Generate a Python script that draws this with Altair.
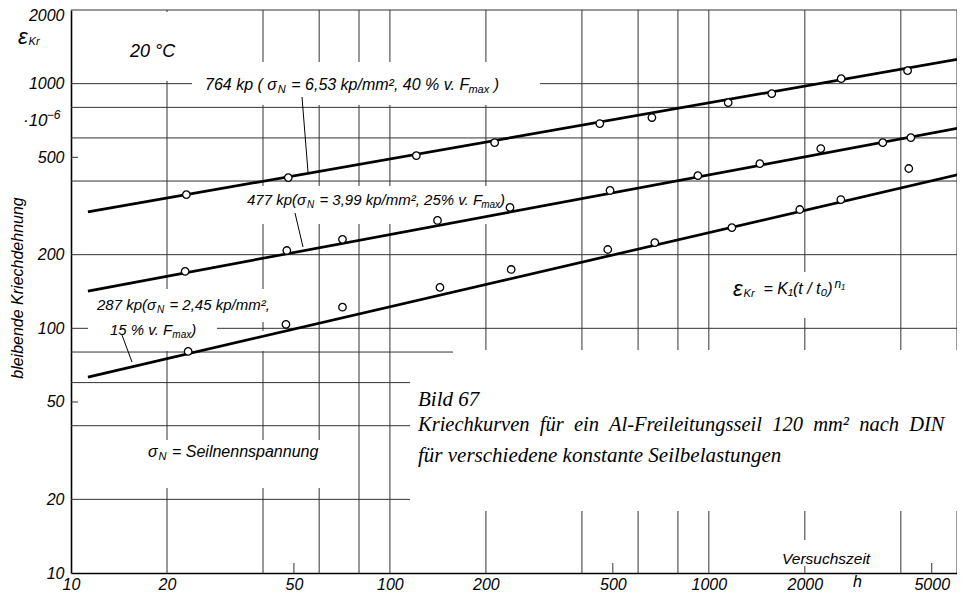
import math
import altair as alt
import pandas as pd

# ---------------- data ----------------
# creep strain (x 10^-6) versus test time (h), three rope loads
t_764 = [23, 48, 121, 213, 455, 663, 1150, 1575, 2600, 4200]
e_764 = [352, 413, 508, 574, 687, 727, 836, 910, 1048, 1130]
t_477 = [22.8, 47.5, 71, 141, 238, 490, 924, 1445, 2244, 3510, 4300]
e_477 = [171, 208, 231, 276, 312, 366, 421, 471, 543, 574, 602]
t_287 = [23.3, 47.2, 71, 143.5, 240, 482, 677, 1181, 1928, 2594, 4236]
e_287 = [80.5, 103.8, 122, 147, 174, 210, 224, 258, 306, 336, 450]

# end points of the drawn straight fit lines
fit_t = [11.3, 6350]
fit_764 = [299, 1274]
fit_477 = [142, 665]
fit_287 = [63.2, 431]

x_grid = [20, 40, 60, 80, 100, 200, 400, 600, 800, 1000, 2000, 4000, 6000]
y_grid = [20, 40, 60, 80, 100, 200, 400, 600, 800, 1000, 2000]
x_ticks = [10, 20, 50, 100, 200, 500, 1000, 2000, 5000]
y_ticks = [10, 20, 50, 100, 200, 500, 1000, 2000]
x_minor = [50, 500, 5000]
y_minor = [50, 500]

# ---------------- layout ----------------
PAD_L, PAD_T, W, H = 63, 2, 886, 563
X_DOM = [10, 6000]
Y_DOM = [10, 2000]
PX0, PY0 = 8 + PAD_L, 8 + PAD_T   # plot origin on the page


def tx(px):
    return 10 ** (math.log10(X_DOM[0]) + (px - PX0) / W * math.log10(X_DOM[1] / X_DOM[0]))


def ty(py):
    return 10 ** (math.log10(Y_DOM[0]) + (PY0 + H - py) / H * math.log10(Y_DOM[1] / Y_DOM[0]))


SANS = "Liberation Sans"
SERIF = "Liberation Serif"

xs = alt.Scale(type="log", domain=X_DOM, nice=False)
ys = alt.Scale(type="log", domain=Y_DOM, nice=False)

x_axis = alt.Axis(values=x_ticks, grid=False, ticks=False, domain=True, domainColor="black",
                  domainWidth=1.6, labelFont=SANS, labelFontStyle="italic", labelFontSize=16,
                  labelColor="black", labelPadding=3, labelOverlap=False, labelFlush=False,
                  labelBound=False, format="d", title=None)
y_axis = alt.Axis(values=y_ticks, grid=False, ticks=False, domain=True, domainColor="black",
                  domainWidth=1.6, labelFont=SANS, labelFontStyle="italic", labelFontSize=16,
                  labelColor="black", labelPadding=7, labelOverlap=False, labelFlush=False,
                  labelBound=False, format="d", title=None,
                  labelOffset={"condition": {"test": "datum.value >= 2000", "value": 5}, "value": 0})


def X(f):
    return alt.X(f, type="quantitative", scale=xs, axis=x_axis)


def Y(f):
    return alt.Y(f, type="quantitative", scale=ys, axis=y_axis)


# grid
grid_x = alt.Chart(pd.DataFrame({"t": x_grid})).mark_rule(color="#333333", strokeWidth=1).encode(x=X("t"))
grid_y = alt.Chart(pd.DataFrame({"e": y_grid})).mark_rule(color="#333333", strokeWidth=1).encode(y=Y("e"))

# short inward ticks (10 px / 7 px long)
minor_x_df = pd.DataFrame({"t": x_minor, "y": [Y_DOM[0]] * len(x_minor),
                           "y2": [ty(PY0 + H - 10)] * len(x_minor)})
minor_y_df = pd.DataFrame({"e": y_minor, "x": [X_DOM[0]] * len(y_minor),
                           "x2": [tx(PX0 + 7)] * len(y_minor)})
minor_x = alt.Chart(minor_x_df).mark_rule(color="#333333", strokeWidth=1).encode(
    x=X("t"), y=Y("y"), y2="y2")
minor_y = alt.Chart(minor_y_df).mark_rule(color="#333333", strokeWidth=1).encode(
    y=Y("e"), x=X("x"), x2="x2")

# white boxes where the original grid is interrupted behind the lettering (page pixels)
mask_px = [
    (112, 198, 12, 81), (192, 540, 62, 105), (243, 503, 186, 224),
    (88, 272, 289, 322), (88, 217, 322, 351), (256, 272, 331, 351),
    (722, 885, 272, 318), (453, 970, 350, 511), (410, 453, 358, 511),
    (140, 335, 440, 488), (778, 880, 540, 566),
]
masks = pd.DataFrame([{"x": tx(a), "x2": tx(b), "y": ty(c), "y2": ty(d)} for a, b, c, d in mask_px])
mask_layer = alt.Chart(masks).mark_rect(color="white").encode(
    x=X("x"), x2="x2", y=Y("y"), y2="y2")

# leader lines
lead_px = [(302, 97, 308, 172), (295, 213, 303, 247), (122, 335, 132, 362)]
leads = pd.DataFrame([{"x": tx(a), "y": ty(b), "x2": tx(c), "y2": ty(d)} for a, b, c, d in lead_px])
lead_layer = alt.Chart(leads).mark_rule(color="black", strokeWidth=1).encode(
    x=X("x"), x2="x2", y=Y("y"), y2="y2")

# fit lines
fit_df = pd.DataFrame({
    "t": fit_t * 3,
    "eps": fit_764 + fit_477 + fit_287,
    "s": ["764"] * 2 + ["477"] * 2 + ["287"] * 2,
})
lines = alt.Chart(fit_df).mark_line(color="black", strokeWidth=2.7).encode(
    x=X("t"), y=Y("eps"), detail="s:N")

pts_df = pd.DataFrame({
    "t": t_764 + t_477 + t_287,
    "eps": e_764 + e_477 + e_287,
})
points = alt.Chart(pts_df).mark_point(shape="circle", filled=False, fill="white", fillOpacity=1,
                                       stroke="black", strokeWidth=1.3, size=56, opacity=1).encode(
    x=X("t"), y=Y("eps"))

# ---------------- lettering ----------------
# approximate advance widths (1/1000 em) of Liberation Sans, for laying out sub/superscripts
ADV = {" ": 278, "k": 500, "p": 556, "(": 333, ")": 333, "σ": 600, "=": 584,
       ",": 278, "/": 278, "m": 833, "²": 333, "%": 889, "v": 500, ".": 278, "F": 611, "a": 556,
       "x": 500, "N": 722, "S": 667, "e": 556, "i": 222, "l": 222, "n": 556, "s": 500, "u": 556,
       "g": 556, "K": 667, "t": 278, "r": 333, "c": 500, "h": 556, "z": 500, "V": 667, "ε": 480,
       "₁": 333, "₀": 333, "·": 278, "−": 584}


def adv(txt, size):
    return sum(ADV.get(ch, 556) for ch in txt) * size / 1000.0


def compose(pieces, x0, yc, size):
    rows, x = [], x0
    for piece in pieces:
        txt, kind = piece[0], piece[1]
        dx = piece[2] if len(piece) > 2 else 0
        if kind == "sub":
            s, y = round(size * 0.7), yc + size * 0.32
        elif kind == "sup":
            s, y = round(size * 0.72), yc - size * 0.33
        elif kind == "big":
            s, y = round(size * 1.35), yc
        else:
            s, y = size, yc
        x += dx
        lead = len(txt) - len(txt.lstrip(" "))
        x += adv(" " * lead, s)
        core = txt.strip(" ")
        rows.append((core, x, y, s))
        x += adv(core, s)
        trail = len(txt.lstrip(" ")) - len(core)
        x += adv(" " * trail, s)
    return rows


sans_txt = []
sans_txt += compose([("ε", "big"), ("Kr", "sub")], 18, 37, 16)
sans_txt += compose([("·10", "m"), ("−6", "sup")], 23, 121, 17)
sans_txt += [("20 °C", 130, 52, 18)]
sans_txt += compose([("764 kp ( σ", "m"), ("N", "sub", 1), (" = 6,53 kp/mm², 40 % v. F", "m", 1),
                     ("max", "sub", -2), (" )", "m")], 205, 85, 16)
sans_txt += compose([("477 kp(σ", "m"), ("N", "sub", 1), (" = 3,99 kp/mm², 25% v. F", "m", 1),
                     ("max", "sub", -2), (")", "m")], 247, 200, 15)
sans_txt += compose([("287 kp(σ", "m"), ("N", "sub", 1), (" = 2,45 kp/mm²,", "m", 1)], 97, 305, 15)
sans_txt += compose([("15 % v. F", "m"), ("max", "sub", -1), (")", "m")], 110, 330, 15)
sans_txt += compose([("ε", "big"), ("Kr", "sub"), ("  = K₁(t / t₀)", "m"), ("n₁", "sup", 3)],
                    733, 289, 16)
sans_txt += compose([("σ", "m"), ("N", "sub", 1), (" = Seilnennspannung", "m", 1)], 148, 452, 16)
sans_txt += [("Versuchszeit", 782, 559, 15.5), ("h", 853, 582, 16)]

serif_txt = [
    ("Bild 67", 418, 400, 21),
    ("Kriechkurven\u00a0 für\u00a0 ein\u00a0 Al-Freileitungsseil\u00a0 120\u00a0 mm²\u00a0 nach\u00a0 DIN",
     418, 425, 20.5),
    ("für verschiedene konstante Seilbelastungen", 418, 456, 21),
]
rot_txt = [("bleibende Kriechdehnung", 18, 288, 16)]


def tdf(rows):
    return pd.DataFrame([{"text": s, "x": tx(a), "y": ty(b), "size": z} for s, a, b, z in rows])


def text_layer(rows, font, **kw):
    return alt.Chart(tdf(rows)).mark_text(
        baseline="middle", font=font, fontStyle="italic", color="black", **kw).encode(
        x=X("x"), y=Y("y"), text="text:N", size=alt.Size("size:Q", scale=None, legend=None))


sans_layer = text_layer(sans_txt, SANS, align="left")
serif_layer = text_layer(serif_txt, SERIF, align="left")
rot_layer = text_layer(rot_txt, SANS, align="center", angle=270)

chart = alt.layer(
    grid_x, grid_y, minor_x, minor_y, mask_layer, lead_layer, lines, points,
    sans_layer, serif_layer, rot_layer,
).properties(
    width=W, height=H,
    autosize=alt.AutoSizeParams(type="none"),
    padding={"left": PAD_L, "top": PAD_T, "right": 0, "bottom": 18},
    background="white",
).configure_view(stroke=None)

chart.save("out.html", embed_options={"renderer": "svg", "actions": False})
